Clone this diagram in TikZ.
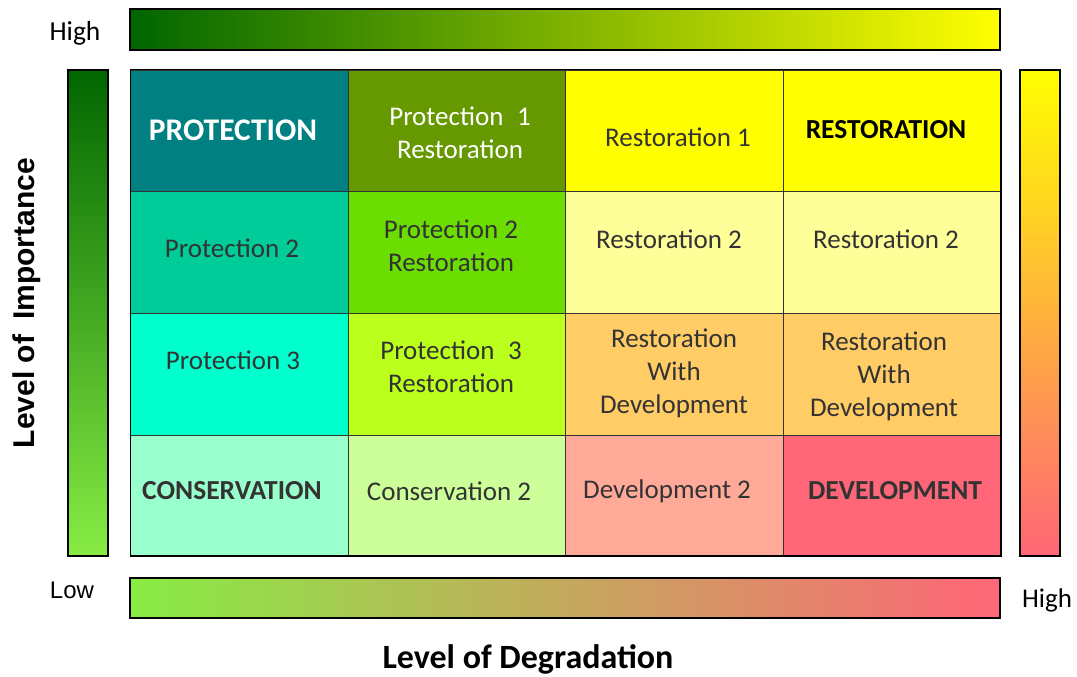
\documentclass[tikz,border=0pt]{standalone}
\usepackage{fontspec}
\setmainfont{Carlito}
\newfontfamily\arialfont{Liberation Sans}

\definecolor{txtgray}{RGB}{51,51,51}
\definecolor{darkgreen}{RGB}{0,102,0}
\definecolor{oliveg}{RGB}{150,175,0}
\definecolor{lightgreen}{RGB}{136,236,68}
\definecolor{midgreen}{RGB}{70,160,30}
\definecolor{tan}{RGB}{205,190,100}
\definecolor{pinkred}{RGB}{255,102,119}
\definecolor{orangey}{RGB}{255,195,85}
\definecolor{cteal}{RGB}{0,128,128}
\definecolor{colive}{RGB}{102,153,0}
\definecolor{cyellow}{RGB}{255,255,0}
\definecolor{csea}{RGB}{0,204,153}
\definecolor{clime}{RGB}{108,221,0}
\definecolor{cpaleyel}{RGB}{255,255,153}
\definecolor{caqua}{RGB}{0,255,204}
\definecolor{cyelgreen}{RGB}{187,255,28}
\definecolor{corange}{RGB}{255,204,102}
\definecolor{cmint}{RGB}{153,255,204}
\definecolor{cpalegreen}{RGB}{204,255,153}
\definecolor{csalmon}{RGB}{255,170,153}
\definecolor{cred}{RGB}{255,102,119}

\begin{document}
\begin{tikzpicture}[x = 1pt, y = -1pt,
  cell/.style = {draw = black!80, line width = 0.8pt},
  bar/.style = {draw = black, line width = 1.2pt},
  celltext/.style = {align = center, text = txtgray, font = \fontsize{27}{33}\selectfont},
  bigtext/.style = {celltext, font = \fontsize{27.5}{33}\selectfont\bfseries}]
\useasboundingbox (0, 0) rectangle (1077, 677);

% gradient bars
\shade[left color = darkgreen, middle color = oliveg, right color = cyellow] (130, 9) rectangle (1000, 50);
\draw[bar] (130, 9) rectangle (1000, 50);
\shade[top color = darkgreen, middle color = midgreen, bottom color = lightgreen] (68, 70) rectangle (108, 556);
\draw[bar] (68, 70) rectangle (108, 556);
\shade[top color = cyellow, middle color = orangey, bottom color = pinkred] (1020, 70) rectangle (1060, 556);
\draw[bar] (1020, 70) rectangle (1060, 556);
\shade[left color = lightgreen, middle color = tan, right color = pinkred] (130, 578) rectangle (1000, 618);
\draw[bar] (130, 578) rectangle (1000, 618);

% cells, row by row
\draw[cell, fill = cteal] (130, 70) rectangle (348, 191);
\draw[cell, fill = colive] (348, 70) rectangle (565, 191);
\draw[cell, fill = cyellow] (565, 70) rectangle (783, 191);
\draw[cell, fill = cyellow] (783, 70) rectangle (1000, 191);
\draw[cell, fill = csea] (130, 191) rectangle (348, 313);
\draw[cell, fill = clime] (348, 191) rectangle (565, 313);
\draw[cell, fill = cpaleyel] (565, 191) rectangle (783, 313);
\draw[cell, fill = cpaleyel] (783, 191) rectangle (1000, 313);
\draw[cell, fill = caqua] (130, 313) rectangle (348, 435);
\draw[cell, fill = cyelgreen] (348, 313) rectangle (565, 435);
\draw[cell, fill = corange] (565, 313) rectangle (783, 435);
\draw[cell, fill = corange] (783, 313) rectangle (1000, 435);
\draw[cell, fill = cmint] (130, 435) rectangle (348, 556);
\draw[cell, fill = cpalegreen] (348, 435) rectangle (565, 556);
\draw[cell, fill = csalmon] (565, 435) rectangle (783, 556);
\draw[cell, fill = cred] (783, 435) rectangle (1000, 556);
\draw[line width = 1pt] (130, 70) rectangle (1000, 556);
\draw[line width = 2.5pt] (130, 556) -- (1001, 556) -- (1001, 70);

% cell texts
\node[bigtext, text = white, font = \fontsize{31.5}{33}\selectfont\bfseries] (prot) at (233, 130) {PROTECTION};
\node[celltext, text = white] (protone) at (460, 133) {Protection\hspace{0.5em}1\\Restoration};
\node[celltext] (resone) at (678, 137) {Restoration 1};
\node[bigtext, text = black] (rest) at (886, 130) {RESTORATION};
\node[celltext] (prottwo) at (232, 248) {Protection 2};
\node[celltext] (prottwores) at (451, 246) {Protection 2\\Restoration};
\node[celltext] (restwo) at (669, 239) {Restoration 2};
\node[celltext] (restwob) at (886, 239) {Restoration 2};
\node[celltext] (protthree) at (233, 360) {Protection 3};
\node[celltext] (protthreeres) at (451, 367) {Protection\hspace{0.5em}3\\Restoration};
\node[celltext] (reswithdev) at (674, 373) {Restoration\\With\\Development};
\node[celltext] (reswithdevb) at (884, 376) {Restoration\\With\\Development};
\node[bigtext] (cons) at (232, 491) {CONSERVATION};
\node[celltext] (constwo) at (449, 491) {Conservation 2};
\node[celltext] (devtwo) at (667, 491) {Development 2};
\node[bigtext] (dev) at (895, 491) {DEVELOPMENT};

% axis labels
\node[font = \fontsize{27.5}{30}\selectfont] (hightop) at (75, 33) {High};
\node[font = \fontsize{24}{28}\selectfont\arialfont] (low) at (72, 590) {Low};
\node[font = \fontsize{27}{30}\selectfont] (highright) at (1047, 600) {High};
\node[font = \fontsize{30}{34}\selectfont\arialfont\bfseries, rotate = 90] (importance) at (27, 303) {Level of\hspace{0.5em}Importance};
\node[font = \fontsize{34}{38}\selectfont\bfseries] (degradation) at (528, 659) {Level of Degradation};
\end{tikzpicture}
\end{document}
